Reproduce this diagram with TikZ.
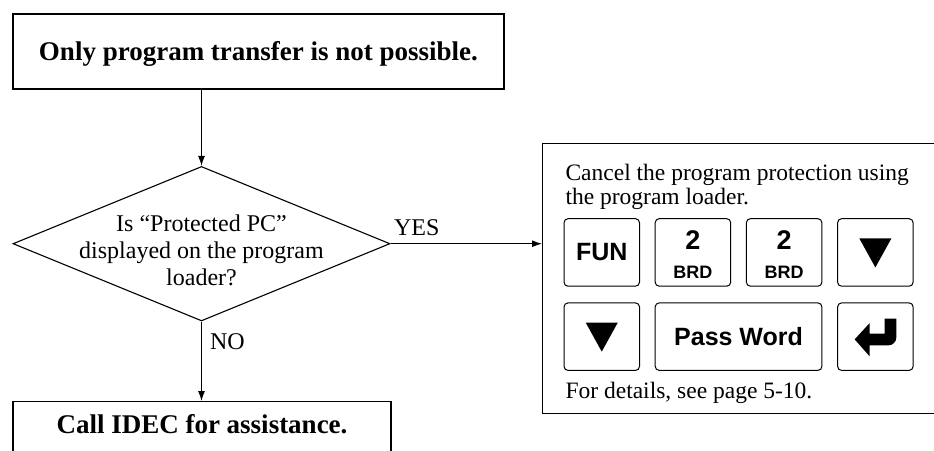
\documentclass[tikz,border=0pt]{standalone}
\usepackage{fontspec}
\setmainfont{Liberation Serif}
\newfontfamily\keyfont{Liberation Sans}
\usetikzlibrary{arrows.meta,positioning,shapes.geometric}

\begin{document}
\begin{tikzpicture}[x=1pt,y=-1pt,>={Latex[length=10pt,width=7pt]},line width=1.1pt,
  txt/.style={font=\fontsize{24}{27}\selectfont},
  box/.style={draw,font=\bfseries\fontsize{27}{30}\selectfont,inner sep=3pt},
  decision/.style={draw,diamond,inner sep=0pt,minimum width=377pt,minimum height=154.5pt},
  key/.style={draw,rounded corners=4pt,line width=1pt,outer sep=0pt,inner sep=0pt,minimum width=75.5pt,minimum height=67.5pt,align=center,font=\keyfont\bfseries\fontsize{25}{29}\selectfont},
  downtri/.pic={\fill (-16,-14) -- (16,-14) -- (0,15) -- cycle;},
  enterkey/.pic={\fill (-20.7,2.7) -- (-5.7,-13.6) -- (-5.7,-3) -- (9.3,-3) -- (9.3,-18) -- (21,-18) [rounded corners=8pt] -- (21,8.7) [sharp corners] -- (-5.7,8.7) -- (-5.7,19.7) -- cycle;}]
  \useasboundingbox (0,0) rectangle (934,450);
  \clip (0,0) rectangle (934,450);
  % flow on the left
  \node[box,minimum width=491pt,minimum height=75pt,text height=20pt,text depth=3pt] (start) at (258.5,51.5) {Only program transfer is not possible.};
  \node[decision] (dec) at (201.5,243.7) {};
  \node[txt,align=center] (q) at (201.5,250.6) {Is “Protected PC”\\displayed on the program\\loader?};
  \node[box,anchor=north,minimum width=378pt,text height=29pt,text depth=40pt] (help) at (202,401) {Call IDEC for assistance.};
  \node[txt,anchor=base west,inner sep=0pt] (yes) at ([shift={(3,-8)}]dec.east) {YES};
  \node[txt,anchor=base west,inner sep=0pt] (no) at ([shift={(8,28)}]dec.south) {NO};
  % program loader panel
  \node[draw,anchor=north west,minimum width=420pt,minimum height=270pt] (panel) at (542,143) {};
  \node[txt,anchor=north west,align=left,inner sep=0pt,font=\fontsize{23.5}{23.5}\selectfont] (cancel) at (565,164) {Cancel the program protection using\\the program loader.};
  \node[key,anchor=north west] (fun) at (564,218.7) {FUN};
  \node[key,right=15.7pt of fun] (two1) {\rule{0pt}{24pt}{\fontsize{27}{29}\selectfont 2}\\{\fontsize{18}{18}\selectfont BRD}};
  \node[key,right=15.7pt of two1] (two2) {\rule{0pt}{24pt}{\fontsize{27}{29}\selectfont 2}\\{\fontsize{18}{18}\selectfont BRD}};
  \node[key,right=15.7pt of two2] (dn1) {};
  \node[key,below=16.7pt of fun] (dn2) {};
  \node[key,right=15.7pt of dn2,minimum width=166.7pt] (pw) {Pass Word};
  \node[key,right=15.7pt of pw] (enter) {};
  \pic at (dn1.center) {downtri};
  \pic at (dn2.center) {downtri};
  \pic at (enter.center) {enterkey};
  \node[txt,anchor=base west,inner sep=0pt,font=\fontsize{23.5}{23.5}\selectfont] (details) at (565,398) {For details, see page 5-10.};
  % connectors
  \draw[->] (dec.north |- start.south) -- (dec.north);
  \draw[->] (dec.east) -- (dec.east -| panel.west);
  \draw[->] (dec.south) -- (dec.south |- help.north);
\end{tikzpicture}
\end{document}
